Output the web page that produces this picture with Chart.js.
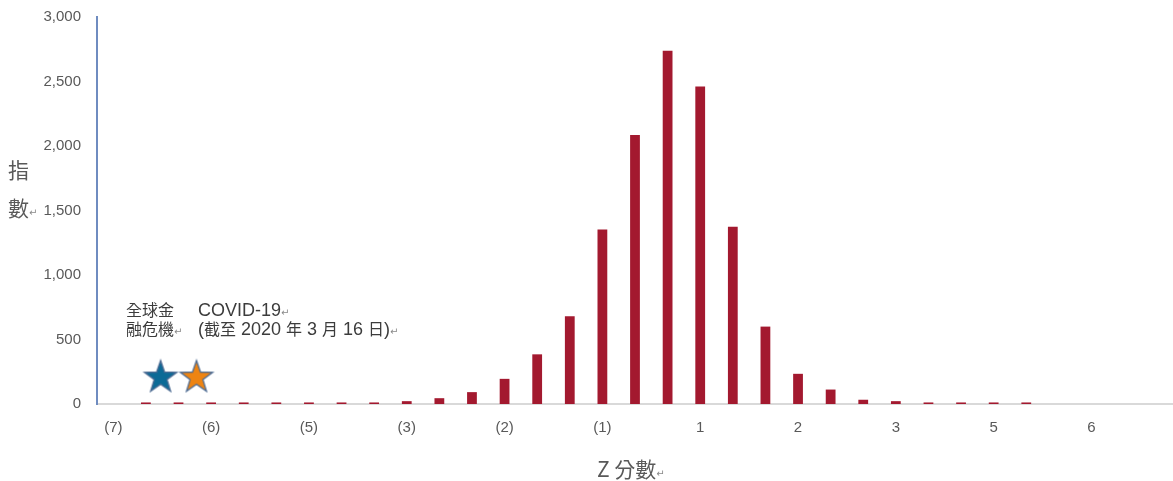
<!DOCTYPE html>
<html>
<head>
<meta charset="utf-8">
<script src="https://cdn.jsdelivr.net/npm/chart.js@4.4.1/dist/chart.umd.min.js"></script>
<style>
  html, body { margin: 0; padding: 0; background: #ffffff; }
  #wrap { width: 1173px; height: 481px; position: relative; }
</style>
</head>
<body>
<div id="wrap"><canvas id="c"></canvas></div>
<script>
// Z-score buckets (every third one is labelled) and index counts per bucket
const zLabels = ['(7)', '', '', '(6)', '', '', '(5)', '', '', '(3)', '', '', '(2)', '', '', '(1)', '', '',
                 '1', '', '', '2', '', '', '3', '', '', '5', '', '', '6', '', ''];
const indexValues = [0, 12, 12, 12, 12, 12, 12, 12, 12, 22, 45, 92, 195, 385, 680, 1352, 2085, 2738,
                     2462, 1375, 600, 234, 112, 33, 22, 12, 12, 12, 12, 0, 0, 0, 0];

// Event markers: bucket position (fractional) and index level
const eventNames = ['全球金融危機', 'COVID-19'];
const eventX = [1.45, 2.55];
const eventY = [205, 205];
const eventFill = ['#0C6A96', '#EE8412'];

// Y axis ticks
const yTicks = [0, 500, 1000, 1500, 2000, 2500, 3000];

// Annotation lines above the markers
const gfcLines = ['全球金', '融危機'];
const covidLines = ['COVID-19', '(截至 2020 年 3 月 16 日)'];

const BAR = '#A3192F';
const AXIS_TEXT = '#595959';
const NOTE_TEXT = '#3C3C3C';
const MARK = '\u21B5';

function starImage(fill, stroke) {
  const R = 17, c = document.createElement('canvas');
  c.width = 40; c.height = 40;
  const g = c.getContext('2d');
  g.translate(20, 20);
  g.beginPath();
  for (let i = 0; i < 10; i++) {
    const r = i % 2 ? R * 0.40 : R;
    const a = -Math.PI / 2 + i * Math.PI / 5;
    g.lineTo(r * Math.cos(a), r * Math.sin(a));
  }
  g.closePath();
  g.fillStyle = fill;
  g.fill();
  g.lineWidth = 1.3;
  g.strokeStyle = stroke;
  g.stroke();
  return c;
}

// split a string into CJK / non-CJK runs so each gets its own font
function runs(str, cjkFont, latinFont, color) {
  const out = [];
  const re = /[\u3000-\u9fff\uff00-\uffef]+|[^\u3000-\u9fff\uff00-\uffef]+/g;
  let m;
  while ((m = re.exec(str)) !== null) {
    const isCjk = /[\u3000-\u9fff\uff00-\uffef]/.test(m[0]);
    out.push({ text: m[0], font: isCjk ? cjkFont : latinFont, color });
  }
  return out;
}

function drawRich(ctx, x, y, segs) {
  ctx.save();
  ctx.textAlign = 'left';
  ctx.textBaseline = 'alphabetic';
  for (const s of segs) {
    ctx.font = s.font;
    ctx.fillStyle = s.color;
    ctx.fillText(s.text, x, y);
    x += ctx.measureText(s.text).width;
  }
  ctx.restore();
}

const markSeg = { text: MARK, font: "10px 'DejaVu Sans'", color: '#8A8A8A' };

const textPlugin = {
  id: 'texts',
  afterDatasetsDraw(chart) {
    const ctx = chart.ctx;
    const noteCjk = "16px 'Noto Sans CJK TC'";
    const noteLatin = "18px 'Liberation Sans', 'Noto Sans CJK TC'";
    const titleFont = "21px 'Noto Sans CJK TC'";

    // axis titles
    drawRich(ctx, 8, 178, [{ text: '指', font: titleFont, color: AXIS_TEXT }]);
    drawRich(ctx, 8, 216, [{ text: '數', font: titleFont, color: AXIS_TEXT }, markSeg]);
    drawRich(ctx, 597, 477, [{ text: 'Z 分數', font: titleFont, color: AXIS_TEXT }, markSeg]);

    // event notes
    drawRich(ctx, 126, 316, runs(gfcLines[0], noteCjk, noteLatin, NOTE_TEXT));
    drawRich(ctx, 126, 335, runs(gfcLines[1], noteCjk, noteLatin, NOTE_TEXT).concat([markSeg]));
    drawRich(ctx, 198, 316, runs(covidLines[0], noteCjk, noteLatin, NOTE_TEXT).concat([markSeg]));
    drawRich(ctx, 198, 335, runs(covidLines[1], noteCjk, noteLatin, NOTE_TEXT).concat([markSeg]));
  }
};

new Chart(document.getElementById('c'), {
  type: 'bar',
  data: {
    labels: zLabels,
    datasets: [
      {
        type: 'scatter',
        label: 'events',
        xAxisID: 'x2',
        yAxisID: 'y',
        data: eventX.map((x, i) => ({ x, y: eventY[i] })),
        pointStyle: eventFill.map(f => starImage(f, '#4B6A92')),
        order: 0
      },
      {
        label: '指數',
        data: indexValues,
        backgroundColor: BAR,
        borderWidth: 0,
        grouped: false,
        barPercentage: 0.3,
        categoryPercentage: 1.0,
        order: 1
      }
    ]
  },
  options: {
    responsive: true,
    maintainAspectRatio: false,
    animation: false,
    events: [],
    layout: { autoPadding: false, padding: { top: 17, right: 0, bottom: 0, left: 0 } },
    plugins: {
      legend: { display: false },
      tooltip: { enabled: false },
      title: { display: false }
    },
    scales: {
      x: {
        type: 'category',
        offset: true,
        grid: { display: false, drawTicks: true, tickLength: 12 },
        border: { display: true, color: '#D9D9D9', width: 2 },
        ticks: {
          autoSkip: false,
          maxRotation: 0,
          padding: 3,
          color: AXIS_TEXT,
          font: { family: "'Liberation Sans'", size: 15 }
        },
        afterFit(scale) { scale.height = 77; }
      },
      x2: {
        type: 'linear',
        display: false,
        offset: false,
        bounds: 'data',
        grid: { offset: false },
        min: -0.5,
        max: zLabels.length - 0.5
      },
      y: {
        min: yTicks[0],
        max: yTicks[yTicks.length - 1],
        afterBuildTicks(scale) { scale.ticks = yTicks.map(v => ({ value: v })); },
        grid: { display: false, drawTicks: true, tickLength: 13 },
        border: { display: true, color: '#6F8CC0', width: 2 },
        ticks: {
          padding: 3,
          color: AXIS_TEXT,
          font: { family: "'Liberation Sans'", size: 15 },
          callback: v => v.toLocaleString('en-US')
        },
        afterFit(scale) { scale.width = 97; }
      }
    }
  },
  plugins: [textPlugin]
});
</script>
</body>
</html>
